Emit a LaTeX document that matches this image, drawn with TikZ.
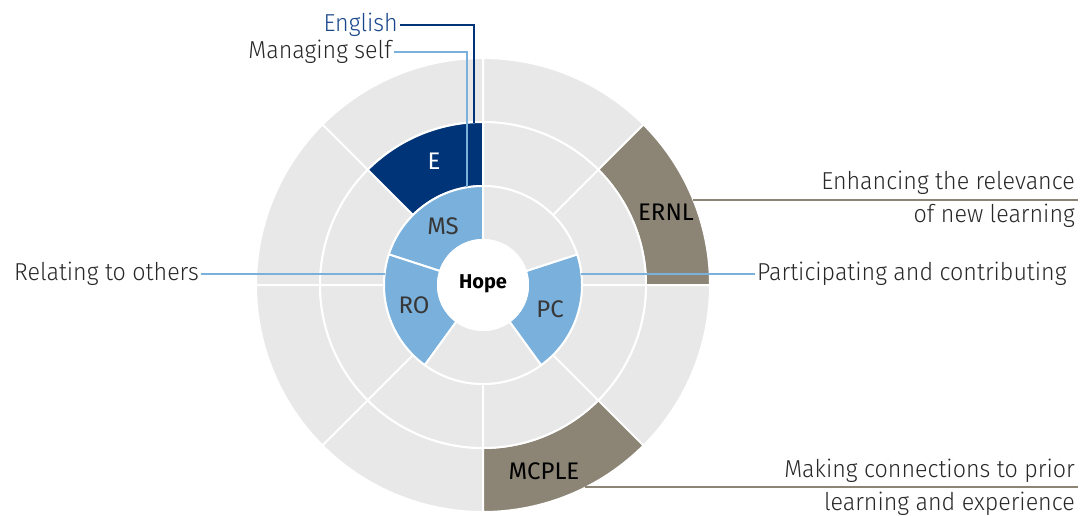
\documentclass[tikz,border=0pt]{standalone}
\usepackage{fontspec}
\setmainfont{Fira Sans}
\newfontfamily\lblfont{Fira Sans Light}[FakeStretch=0.95]
\usetikzlibrary{calc}
\definecolor{ringgrey}{RGB}{232,232,232}
\definecolor{lblue}{RGB}{122,176,220}
\definecolor{navy}{RGB}{0,52,120}
\definecolor{navytext}{RGB}{25,70,140}
\definecolor{taupe}{RGB}{140,133,117}
\definecolor{txtgrey}{RGB}{55,55,55}
\definecolor{lbltext}{RGB}{40,40,40}
\newcommand\sector[5]{%
  \path[#5] (#1:#3pt) -- (#1:#4pt) arc[start angle=#1, end angle=#2, radius=#4pt]
    -- (#2:#3pt) arc[start angle=#2, end angle=#1, radius=#3pt] -- cycle;}
\begin{document}
\begin{tikzpicture}[x=1pt,y=1pt,
  seg/.style={draw=white,line width=2pt},
  lbl/.style={font=\lblfont\fontsize{24.5}{28}\selectfont,text=lbltext,inner sep=2pt},
  inlbl/.style={font=\fontsize{24}{28}\selectfont,inner sep=0pt},
  callblue/.style={draw=lblue,line width=1.5pt},
  callnavy/.style={draw=navy,line width=1.5pt},
  calltaupe/.style={draw=taupe,line width=1.8pt}]
\useasboundingbox (0,0) rectangle (1087,515);
\begin{scope}[shift={(483,230)}]
  % outer ring
  \foreach \a/\b in {0/45,45/90,90/135,135/180,180/225,225/270,270/315,315/360}
    \sector{\a}{\b}{163}{227}{seg,fill=ringgrey};
  \sector{0}{45}{163}{227}{seg,fill=taupe}
  \sector{270}{315}{163}{227}{seg,fill=taupe}
  % middle ring
  \foreach \a/\b in {0/45,45/90,90/135,135/180,180/225,225/270,270/315,315/360}
    \sector{\a}{\b}{99}{163}{seg,fill=ringgrey};
  \sector{90}{135}{99}{163}{seg,fill=navy}
  % inner ring
  \sector{90}{162}{45}{99}{seg,fill=lblue}
  \sector{162}{234}{45}{99}{seg,fill=lblue}
  \sector{234}{306}{45}{99}{seg,fill=ringgrey}
  \sector{306}{378}{45}{99}{seg,fill=lblue}
  \sector{18}{90}{45}{99}{seg,fill=ringgrey}
  % centre
  \fill[white] (0,0) circle[radius=46pt];
  \node[font=\fontsize{20}{24}\selectfont\bfseries,inner sep=0pt] (hope) at (0,1) {Hope};
  % segment labels
  \node[inlbl,text=white] (e) at (-49,124) {E};
  \node[inlbl,text=txtgrey] (ms) at (-40,59) {MS};
  \node[inlbl,text=txtgrey] (ro) at (-69,-20) {RO};
  \node[inlbl,text=txtgrey] (pc) at (67,-24) {PC};
  \node[inlbl,text=black] (ernl) at (183,73) {ERNL};
  \node[inlbl,text=black] (mcple) at (61,-186) {MCPLE};
  % connector end points on the segments
  \coordinate (eTop) at (-9,162);
  \coordinate (msTop) at (-16,97.5);
  \coordinate (roEdge) at (-98,11);
  \coordinate (pcEdge) at (98,11);
  \coordinate (ernlArc) at (210,85);
  \coordinate (mcpleArc) at (102,-202);
\end{scope}
% outside labels
\node[lbl,text=navytext,anchor=east] (english) at (400,490) {English};
\node[lbl,anchor=east] (managing) at (394,463) {Managing self};
\node[lbl,anchor=east] (relating) at (201,241) {Relating to others};
\node[lbl,anchor=west] (particip) at (755,241) {Participating and contributing};
\node[lbl,anchor=base east] (ernlA) at (1077,325) {Enhancing the relevance};
\node[lbl,anchor=base east] (ernlB) at (1077,292) {of new learning};
\node[lbl,anchor=base east] (mcpleA) at (1077,38) {Making connections to prior};
\node[lbl,anchor=base east] (mcpleB) at (1077,5) {learning and experience};
\coordinate (ernlEnd) at (1078,315);
\coordinate (mcpleEnd) at (1078,28);
% connectors
\draw[callnavy] (english.east) -| (eTop);
\draw[callblue] (managing.east) -| (msTop);
\draw[callblue] (relating.east) -- (roEdge);
\draw[callblue] (pcEdge) -- (particip.west);
\draw[calltaupe] (ernlArc) -- (ernlEnd);
\draw[calltaupe] (mcpleArc) -- (mcpleEnd);
\end{tikzpicture}
\end{document}
